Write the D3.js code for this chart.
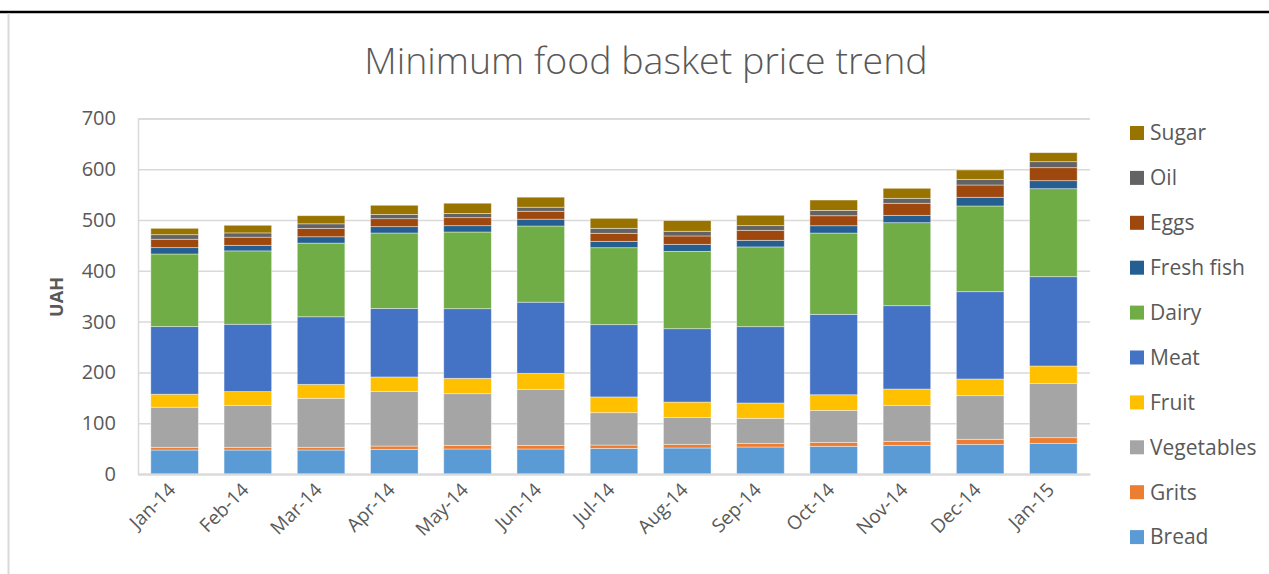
<!DOCTYPE html>
<html>
<head>
<meta charset="utf-8">
<script src="https://cdn.jsdelivr.net/npm/d3@7"></script>
<style>
  body { margin: 0; background: #fff; }
  svg text { font-family: "Open Sans", "Liberation Sans", sans-serif; fill: #595959; }
</style>
</head>
<body>
<div id="chart"></div>
<script>
var months = ['Jan-14', 'Feb-14', 'Mar-14', 'Apr-14', 'May-14', 'Jun-14', 'Jul-14',
    'Aug-14', 'Sep-14', 'Oct-14', 'Nov-14', 'Dec-14', 'Jan-15'];

var bread      = [47.2, 47.2, 47.2, 48.6, 49.2, 49.2, 50.5, 51.2, 53.1, 54.5, 56.4, 58.4, 60.4];
var grits      = [5.3, 5.3, 5.3, 6.4, 7.2, 7.2, 6.5, 7.2, 7.3, 7.8, 7.9, 9.9, 11.1];
var vegetables = [79, 82.7, 96.5, 107.7, 101.7, 110.3, 63.7, 53, 49.2, 63, 70.9, 85.9, 107];
var fruit      = [25.6, 27, 27.5, 28.3, 30.3, 31.5, 31, 30.2, 30.2, 30.7, 32.1, 32.8, 34.1];
var meat       = [133, 132.6, 133, 135, 137, 140, 142.3, 144.4, 150.2, 158.3, 164, 171.9, 175.8];
var dairy      = [143, 144.4, 145, 148.4, 151, 150, 151.5, 152.3, 157, 160, 163.4, 168.7, 173.2];
var freshFish  = [12.5, 11, 12.5, 12.5, 12.4, 13.4, 12.5, 13.8, 13, 14.4, 14.5, 17.1, 15.8];
var eggs       = [16.5, 16, 16.5, 15.7, 15.8, 15.6, 15.8, 16.5, 19.7, 19.7, 23.7, 24.2, 25.6];
var oil        = [9, 8.4, 9, 8.4, 8.4, 8, 9.8, 9.2, 9.2, 10.5, 9.8, 11.1, 11.8];
var sugar      = [12.5, 15, 16, 18, 20, 19.7, 19.7, 21, 20.4, 20.4, 19.7, 18.4, 17.7];

var seriesNames = ['Bread', 'Grits', 'Vegetables', 'Fruit', 'Meat', 'Dairy', 'Fresh fish', 'Eggs', 'Oil', 'Sugar'];
var seriesValues = [bread, grits, vegetables, fruit, meat, dairy, freshFish, eggs, oil, sugar];
var colors = ['#5b9bd5', '#ed7d31', '#a5a5a5', '#ffc000', '#4472c4', '#70ad47', '#255e91', '#9e480e', '#636363', '#997300'];
var yTicks = [0, 100, 200, 300, 400, 500, 600, 700];

var width = 1269,
    height = 574,
    margin = { left: 138, top: 118.4, right: 179, bottom: 100 };

var chartWidth = width - margin.left - margin.right;
var chartHeight = 474 - margin.top;

// build rows for d3.stack
var rows = months.map(function (m, i) {
    var row = { key: m };
    seriesNames.forEach(function (s, j) { row[s] = seriesValues[j][i]; });
    return row;
});

var stacked = d3.stack().keys(seriesNames)(rows);

var xScale = d3.scaleBand().domain(months).range([0, chartWidth]).paddingInner(0.35).paddingOuter(0.175);
var yScale = d3.scaleLinear().domain([0, 700]).range([chartHeight, 0]);
var zScale = d3.scaleOrdinal().domain(seriesNames).range(colors);

var svg = d3.select('#chart').append('svg')
    .attr('width', width)
    .attr('height', height);

// frame lines
svg.append('line').attr('x1', 0).attr('x2', width).attr('y1', 12).attr('y2', 12)
    .attr('stroke', '#000').attr('stroke-width', 2.5);
svg.append('line').attr('x1', 8.5).attr('x2', 8.5).attr('y1', 13).attr('y2', height)
    .attr('stroke', '#d9d9d9').attr('stroke-width', 2);

// title
svg.append('text')
    .attr('x', 646)
    .attr('y', 74)
    .attr('text-anchor', 'middle')
    .style('font-size', '37.5px')
    .style('font-weight', 300)
    .text('Minimum food basket price trend');

var g = svg.append('g')
    .attr('transform', 'translate(' + margin.left + ',' + margin.top + ')');

// gridlines
var yAxis = d3.axisLeft(yScale).tickValues(yTicks).tickSize(-chartWidth).tickPadding(22);
var yG = g.append('g').attr('class', 'axis y').call(yAxis);
yG.select('.domain').attr('stroke', '#d9d9d9').attr('stroke-width', 1.5);
yG.selectAll('.tick line').attr('stroke', '#d9d9d9').attr('stroke-width', 1.5);
yG.selectAll('.tick text').style('font-size', '20px').attr('fill', '#595959');

// y title
svg.append('text')
    .attr('transform', 'translate(' + 63 + ',' + 297 + ') rotate(-90)')
    .attr('text-anchor', 'middle')
    .style('font-size', '18px')
    .style('font-weight', 'bold')
    .text('UAH');

// bars
var layers = g.append('g').selectAll('g').data(stacked).enter().append('g')
    .attr('fill', function (d) { return zScale(d.key); });

layers.selectAll('rect')
    .data(function (d) { return d; })
    .enter().append('rect')
    .attr('x', function (d) { return xScale(d.data.key); })
    .attr('width', xScale.bandwidth())
    .attr('y', function (d) { return yScale(d[1]); })
    .attr('height', function (d) { return yScale(d[0]) - yScale(d[1]); })
    .attr('stroke', '#fff')
    .attr('stroke-opacity', 0.5)
    .attr('stroke-width', 0.8);

// x axis
var xAxis = d3.axisBottom(xScale).tickSize(0).tickPadding(0);
var xG = g.append('g')
    .attr('class', 'axis x')
    .attr('transform', 'translate(0,' + chartHeight + ')')
    .call(xAxis);
xG.select('.domain').attr('stroke', '#d9d9d9').attr('stroke-width', 2);
xG.selectAll('.tick text')
    .style('font-size', '19px')
    .attr('fill', '#595959')
    .attr('text-anchor', 'end')
    .attr('dy', 0)
    .attr('transform', 'translate(2,17) rotate(-45)');

// legend
var legendNames = seriesNames.slice().reverse();
var legend = svg.append('g').attr('transform', 'translate(1130,133)');
var items = legend.selectAll('g').data(legendNames).enter().append('g')
    .attr('transform', function (d, i) { return 'translate(0,' + (i * 44.9) + ')'; });
items.append('rect')
    .attr('x', 0).attr('y', -7).attr('width', 14).attr('height', 14)
    .attr('fill', function (d) { return zScale(d); });
items.append('text')
    .attr('x', 20).attr('y', 0).attr('dy', '0.35em')
    .style('font-size', '21px')
    .text(function (d) { return d; });
</script>
</body>
</html>
